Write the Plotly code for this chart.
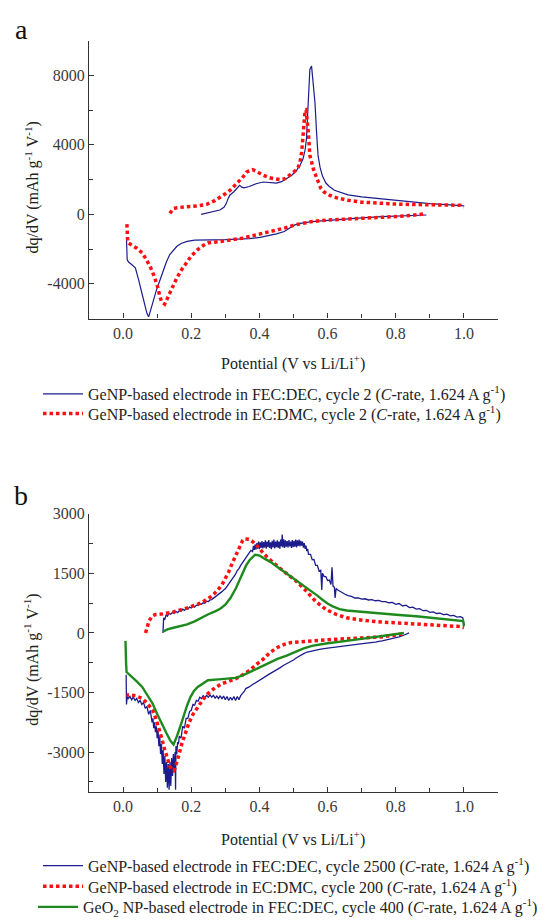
import plotly.graph_objects as go

# ---------------- Panel a data ----------------
a_fec_up_x = [0.229, 0.26, 0.284, 0.296, 0.303, 0.308, 0.313, 0.325, 0.342, 0.348, 0.355, 0.37, 0.39, 0.411, 0.43, 0.45, 0.465, 0.48, 0.495, 0.509, 0.52, 0.528, 0.534, 0.538, 0.543, 0.548, 0.553, 0.557, 0.563, 0.568, 0.572, 0.578, 0.585, 0.595, 0.605, 0.62, 0.64, 0.66, 0.7, 0.75, 0.8, 0.85, 0.9, 0.95, 1.0]
a_fec_up_y = [0, 120, 245, 400, 630, 900, 1100, 1300, 1670, 1560, 1520, 1600, 1760, 1860, 1840, 1800, 1880, 2060, 2250, 2530, 2850, 3200, 3700, 4340, 6200, 8340, 8530, 7800, 6430, 4600, 3390, 2700, 2200, 1800, 1600, 1380, 1230, 1120, 1000, 900, 800, 700, 620, 560, 480]
a_fec_dn_x = [0.89, 0.85, 0.8, 0.758, 0.7, 0.656, 0.6, 0.554, 0.52, 0.504, 0.49, 0.473, 0.45, 0.42, 0.402, 0.37, 0.33, 0.3, 0.26, 0.229, 0.21, 0.188, 0.17, 0.158, 0.148, 0.137, 0.127, 0.117, 0.107, 0.097, 0.087, 0.08, 0.075, 0.07, 0.063, 0.056, 0.046, 0.036, 0.026, 0.016, 0.012, 0.011, 0.01]
a_fec_dn_y = [-40, -60, -100, -130, -200, -270, -340, -420, -520, -610, -780, -990, -1130, -1250, -1330, -1400, -1450, -1460, -1470, -1460, -1490, -1560, -1680, -1840, -2050, -2320, -2750, -3270, -3800, -4410, -5100, -5600, -5900, -5700, -5200, -4600, -3800, -3080, -2900, -2750, -2600, -1900, -1370]

a_ec_up_x = [0.137, 0.142, 0.148, 0.157, 0.175, 0.196, 0.22, 0.245, 0.27, 0.294, 0.315, 0.333, 0.35, 0.362, 0.372, 0.38, 0.39, 0.4, 0.411, 0.43, 0.446, 0.46, 0.475, 0.489, 0.5, 0.508, 0.514, 0.519, 0.524, 0.527, 0.53, 0.534, 0.537, 0.54, 0.544, 0.548, 0.553, 0.558, 0.565, 0.572, 0.58, 0.59, 0.605, 0.62, 0.64, 0.656, 0.7, 0.758, 0.8, 0.86, 0.9, 0.961, 0.99, 1.0]
a_ec_up_y = [57, 200, 330, 380, 410, 435, 490, 570, 800, 1100, 1400, 1770, 2100, 2430, 2520, 2570, 2480, 2360, 2250, 2100, 2020, 2000, 2050, 2250, 2400, 2550, 2720, 3000, 3580, 4200, 4910, 5960, 6000, 5490, 4600, 3390, 2900, 2630, 2250, 1860, 1500, 1280, 1100, 980, 880, 820, 700, 630, 590, 560, 540, 520, 520, 420]
a_ec_dn_x = [0.88, 0.85, 0.8, 0.758, 0.7, 0.656, 0.6, 0.554, 0.504, 0.48, 0.453, 0.42, 0.4, 0.351, 0.3, 0.249, 0.235, 0.219, 0.2, 0.188, 0.173, 0.158, 0.148, 0.137, 0.128, 0.122, 0.117, 0.112, 0.107, 0.102, 0.092, 0.081, 0.068, 0.056, 0.04, 0.0254, 0.0153, 0.013, 0.012, 0.011]
a_ec_dn_y = [20, -60, -130, -170, -200, -230, -330, -420, -610, -760, -890, -1070, -1130, -1370, -1530, -1650, -1800, -2030, -2400, -2700, -3150, -3650, -4100, -4600, -4950, -5170, -5100, -4980, -4650, -4220, -3600, -3080, -2600, -2220, -1950, -1750, -1650, -1400, -1000, -420]

# ---------------- Panel b data ----------------
# GeNP FEC:DEC cycle 2500 (noisy), charge branch in three stretches
b_fec_up1_x = [0.117, 0.119, 0.122, 0.126, 0.13, 0.135, 0.14, 0.145, 0.15, 0.155, 0.16, 0.165, 0.17, 0.175, 0.18, 0.185, 0.19, 0.195, 0.2, 0.205, 0.21, 0.215, 0.22, 0.225, 0.23, 0.235, 0.24, 0.245, 0.25, 0.255, 0.26, 0.265, 0.27, 0.275, 0.28, 0.285, 0.29, 0.295, 0.30, 0.305, 0.31, 0.315, 0.32, 0.325, 0.33, 0.335, 0.34, 0.345, 0.35, 0.355, 0.36, 0.365, 0.37, 0.375]
b_fec_up1_y = [0, 380, 330, 450, 420, 490, 470, 520, 490, 540, 510, 560, 545, 600, 570, 620, 600, 650, 630, 680, 650, 700, 690, 730, 720, 760, 750, 800, 790, 830, 840, 870, 900, 930, 960, 1010, 1040, 1080, 1110, 1170, 1230, 1300, 1360, 1430, 1480, 1570, 1620, 1700, 1760, 1830, 1880, 1960, 2000, 2080]
b_fec_up2_x = [0.38, 0.3825, 0.385, 0.3875, 0.39, 0.3925, 0.395, 0.3975, 0.40, 0.4025, 0.405, 0.4075, 0.41, 0.4125, 0.415, 0.4175, 0.42, 0.4225, 0.425, 0.4275, 0.43, 0.4325, 0.435, 0.4375, 0.44, 0.4425, 0.445, 0.4475, 0.45, 0.4525, 0.455, 0.4575, 0.46, 0.4625, 0.465, 0.467, 0.469, 0.4715, 0.474, 0.4765, 0.479, 0.4815, 0.484, 0.4865, 0.489, 0.4915, 0.494, 0.4965, 0.499, 0.5015, 0.504, 0.5065, 0.509, 0.5115, 0.514, 0.5165, 0.519, 0.5215, 0.524, 0.5265, 0.529, 0.5315, 0.534, 0.5365, 0.539, 0.5415, 0.544]
b_fec_up2_y = [2050, 2190, 2090, 2230, 2100, 2260, 2120, 2300, 2110, 2280, 2140, 2310, 2130, 2290, 2150, 2330, 2120, 2300, 2160, 2340, 2140, 2280, 2110, 2320, 2150, 2350, 2130, 2300, 2160, 2330, 2140, 2300, 2120, 2350, 2180, 2480, 2150, 2360, 2140, 2330, 2170, 2310, 2150, 2340, 2180, 2300, 2140, 2340, 2160, 2320, 2170, 2350, 2150, 2330, 2190, 2350, 2180, 2320, 2200, 2300, 2150, 2260, 2120, 2200, 2060, 2120, 1980]
b_fec_up3_x = [0.55, 0.555, 0.56, 0.565, 0.57, 0.575, 0.58, 0.583, 0.585, 0.59, 0.595, 0.60, 0.605, 0.61, 0.613, 0.616, 0.62, 0.622, 0.625, 0.63, 0.64, 0.65, 0.66, 0.67, 0.68, 0.69, 0.70, 0.71, 0.72, 0.73, 0.74, 0.75, 0.76, 0.77, 0.78, 0.79, 0.80, 0.81, 0.82, 0.83, 0.84, 0.85, 0.86, 0.87, 0.88, 0.89, 0.90, 0.91, 0.92, 0.93, 0.94, 0.95, 0.96, 0.97, 0.98, 0.99, 0.997, 1.0]
b_fec_up3_y = [1980, 1840, 1850, 1700, 1700, 1560, 1580, 1080, 1500, 1420, 1420, 1320, 1330, 1220, 1650, 1180, 1150, 880, 1120, 1080, 1020, 980, 940, 920, 880, 880, 850, 860, 830, 840, 810, 820, 790, 790, 760, 770, 720, 740, 680, 700, 640, 650, 600, 610, 560, 570, 520, 530, 490, 500, 460, 470, 430, 440, 400, 410, 380, 200]
# discharge branch (from 0.84 V down to 0.01 V)
b_fec_dn1_x = [0.839, 0.83, 0.82, 0.81, 0.80, 0.79, 0.78, 0.77, 0.76, 0.75, 0.74, 0.72, 0.70, 0.68, 0.66, 0.64, 0.62, 0.60, 0.58, 0.56, 0.54, 0.53, 0.52, 0.51, 0.50, 0.49, 0.48, 0.47, 0.46, 0.45, 0.44, 0.43, 0.42, 0.41, 0.40, 0.39, 0.38, 0.37, 0.36, 0.355, 0.35, 0.345, 0.34, 0.335, 0.33, 0.325, 0.32, 0.315, 0.31, 0.305, 0.30, 0.295, 0.29, 0.285, 0.28, 0.275, 0.27, 0.265, 0.26, 0.255, 0.25, 0.245, 0.24, 0.235, 0.23, 0.225, 0.22, 0.215, 0.21, 0.205, 0.20, 0.195, 0.19, 0.185, 0.18, 0.175, 0.17]
b_fec_dn1_y = [0, -40, -70, -100, -120, -140, -170, -180, -200, -210, -230, -250, -270, -290, -320, -340, -360, -380, -410, -440, -480, -520, -560, -620, -680, -720, -780, -820, -880, -920, -980, -1030, -1080, -1140, -1180, -1230, -1300, -1360, -1400, -1480, -1540, -1580, -1680, -1600, -1700, -1600, -1690, -1620, -1700, -1600, -1680, -1590, -1660, -1580, -1650, -1590, -1640, -1570, -1620, -1560, -1620, -1570, -1630, -1580, -1650, -1620, -1720, -1700, -1820, -1800, -1950, -1980, -2150, -2150, -2400, -2350, -2650]
b_fec_dn2_x = [0.165, 0.1625, 0.16, 0.1575, 0.155, 0.154, 0.1525, 0.15, 0.1475, 0.145, 0.1425, 0.14, 0.1375, 0.135, 0.1325, 0.13, 0.1275, 0.125, 0.1225, 0.12, 0.1175, 0.115, 0.1125, 0.11, 0.1075, 0.105, 0.1025, 0.10, 0.0975, 0.095, 0.0925, 0.09, 0.0875, 0.085]
b_fec_dn2_y = [-2600, -2800, -2750, -3050, -2850, -3950, -3000, -3450, -3050, -3600, -3150, -3850, -3250, -3950, -3300, -3900, -3250, -3750, -3100, -3550, -2950, -3300, -2800, -3050, -2600, -2850, -2450, -2650, -2350, -2500, -2250, -2400, -2150, -2250]
b_fec_dn3_x = [0.08, 0.075, 0.07, 0.065, 0.06, 0.055, 0.05, 0.045, 0.04, 0.035, 0.03, 0.025, 0.02, 0.015, 0.012, 0.01, 0.009]
b_fec_dn3_y = [-1950, -2050, -1850, -1900, -1750, -1800, -1700, -1750, -1650, -1700, -1620, -1680, -1600, -1650, -1600, -1800, -1050]

b_ec_up_x = [0.066, 0.07, 0.076, 0.085, 0.095, 0.117, 0.148, 0.188, 0.229, 0.259, 0.275, 0.29, 0.3, 0.31, 0.32, 0.331, 0.34, 0.346, 0.351, 0.356, 0.364, 0.371, 0.38, 0.392, 0.412, 0.443, 0.473, 0.504, 0.534, 0.565, 0.595, 0.626, 0.656, 0.707, 0.758, 0.81, 0.86, 0.91, 0.961, 0.99, 1.0]
b_ec_up_y = [0, 150, 300, 420, 465, 480, 530, 630, 755, 920, 1050, 1210, 1370, 1540, 1750, 1955, 2120, 2245, 2330, 2370, 2370, 2355, 2300, 2205, 2000, 1750, 1540, 1335, 1085, 795, 590, 465, 380, 315, 275, 250, 230, 205, 175, 160, 130]
b_ec_dn_x = [0.819, 0.79, 0.758, 0.7, 0.656, 0.6, 0.554, 0.52, 0.493, 0.475, 0.453, 0.43, 0.412, 0.39, 0.371, 0.35, 0.331, 0.31, 0.29, 0.27, 0.249, 0.235, 0.219, 0.205, 0.193, 0.183, 0.173, 0.165, 0.158, 0.152, 0.148, 0.143, 0.137, 0.13, 0.122, 0.115, 0.107, 0.097, 0.0865, 0.07, 0.056, 0.04, 0.0254, 0.0102]
b_ec_dn_y = [-30, -70, -100, -125, -140, -170, -200, -220, -240, -280, -365, -500, -655, -800, -945, -1060, -1150, -1220, -1275, -1380, -1525, -1670, -1855, -2050, -2270, -2500, -2770, -3030, -3265, -3420, -3470, -3440, -3350, -3170, -2935, -2700, -2435, -2180, -1940, -1760, -1650, -1590, -1565, -1565]

b_geo_up_x = [0.117, 0.13, 0.148, 0.165, 0.188, 0.21, 0.229, 0.25, 0.27, 0.285, 0.3, 0.315, 0.331, 0.341, 0.351, 0.361, 0.371, 0.38, 0.387, 0.395, 0.402, 0.415, 0.432, 0.45, 0.473, 0.494, 0.514, 0.534, 0.554, 0.57, 0.585, 0.6, 0.615, 0.635, 0.656, 0.68, 0.707, 0.758, 0.81, 0.86, 0.91, 0.961, 0.99, 0.998, 1.0]
b_geo_up_y = [35, 90, 130, 170, 215, 290, 380, 470, 545, 610, 710, 880, 1125, 1330, 1540, 1700, 1830, 1920, 1970, 1960, 1940, 1870, 1790, 1680, 1540, 1410, 1290, 1170, 1045, 940, 835, 740, 670, 600, 565, 545, 530, 480, 450, 420, 380, 340, 310, 300, 175]
b_geo_dn_x = [0.824, 0.8, 0.758, 0.7, 0.656, 0.6, 0.554, 0.53, 0.504, 0.48, 0.453, 0.43, 0.402, 0.375, 0.351, 0.33, 0.31, 0.28, 0.249, 0.235, 0.219, 0.208, 0.198, 0.188, 0.178, 0.168, 0.158, 0.153, 0.148, 0.143, 0.137, 0.127, 0.117, 0.1, 0.0865, 0.07, 0.056, 0.04, 0.0254, 0.015, 0.0102, 0.009, 0.008, 0.007]
b_geo_dn_y = [0, -30, -75, -140, -200, -260, -325, -390, -490, -570, -655, -750, -860, -960, -1070, -1130, -1150, -1170, -1190, -1260, -1360, -1460, -1610, -1820, -2105, -2350, -2600, -2720, -2810, -2760, -2685, -2520, -2355, -2040, -1775, -1560, -1360, -1220, -1110, -1040, -985, -800, -655, -200]

# ---------------- Tick labels / texts ----------------
x_tickvals = [0.0, 0.2, 0.4, 0.6, 0.8, 1.0]
x_ticktext = ["0.0", "0.2", "0.4", "0.6", "0.8", "1.0"]
x_minor = [-0.1, 0.1, 0.3, 0.5, 0.7, 0.9, 1.1]
ya_tickvals = [-4000, 0, 4000, 8000]
ya_ticktext = ["-4000", "0", "4000", "8000"]
ya_minor = [-2000, 2000, 6000, 10000]
yb_tickvals = [-3000, -1500, 0, 1500, 3000]
yb_ticktext = ["-3000", "-1500", "0", "1500", "3000"]
yb_minor = [-3750, -2250, -750, 750, 2250]

name_a1 = "GeNP-based electrode in FEC:DEC, cycle 2 (<i>C</i>-rate, 1.624 A g<sup>-1</sup>)"
name_a2 = "GeNP-based electrode in EC:DMC, cycle 2 (<i>C</i>-rate, 1.624 A g<sup>-1</sup>)"
name_b1 = "GeNP-based electrode in FEC:DEC, cycle 2500 (<i>C</i>-rate, 1.624 A g<sup>-1</sup>)"
name_b2 = "GeNP-based electrode in EC:DMC, cycle 200 (<i>C</i>-rate, 1.624 A g<sup>-1</sup>)"
name_b3 = "GeO<sub>2</sub> NP-based electrode in FEC:DEC, cycle 400 (<i>C</i>-rate, 1.624 A g<sup>-1</sup>)"

BLUE = "#1c1c8c"
RED = "#ff1010"
GREEN = "#1e8a1e"
FONT = "Liberation Serif"
W, H = 543, 924


def cat(*parts):
    xs, ys = [], []
    for i, (px, py) in enumerate(parts):
        assert len(px) == len(py)
        if i:
            xs.append(None)
            ys.append(None)
        xs += px
        ys += py
    return xs, ys


def chain(*parts):
    xs, ys = [], []
    for px, py in parts:
        assert len(px) == len(py)
        xs += px
        ys += py
    return xs, ys


fig = go.Figure()

x, y = cat((a_fec_dn_x, a_fec_dn_y), (a_fec_up_x, a_fec_up_y))
fig.add_trace(go.Scatter(x=x, y=y, mode="lines", name=name_a1, xaxis="x", yaxis="y",
                         line=dict(color=BLUE, width=1.2), legend="legend"))
x, y = cat((a_ec_dn_x, a_ec_dn_y), (a_ec_up_x, a_ec_up_y))
fig.add_trace(go.Scatter(x=x, y=y, mode="lines", name=name_a2, xaxis="x", yaxis="y",
                         line=dict(color=RED, width=3.5, dash="3.5px,3px"), legend="legend2"))

dn = chain((b_fec_dn1_x, b_fec_dn1_y), (b_fec_dn2_x, b_fec_dn2_y), (b_fec_dn3_x, b_fec_dn3_y))
up = chain((b_fec_up1_x, b_fec_up1_y), (b_fec_up2_x, b_fec_up2_y), (b_fec_up3_x, b_fec_up3_y))
x, y = cat(dn, up)
fig.add_trace(go.Scatter(x=x, y=y, mode="lines", name=name_b1, xaxis="x2", yaxis="y2",
                         line=dict(color=BLUE, width=1.3), legend="legend3"))
x, y = cat((b_ec_dn_x, b_ec_dn_y), (b_ec_up_x, b_ec_up_y))
fig.add_trace(go.Scatter(x=x, y=y, mode="lines", name=name_b2, xaxis="x2", yaxis="y2",
                         line=dict(color=RED, width=3.5, dash="3.5px,3px"), legend="legend4"))
x, y = cat((b_geo_dn_x, b_geo_dn_y), (b_geo_up_x, b_geo_up_y))
fig.add_trace(go.Scatter(x=x, y=y, mode="lines", name=name_b3, xaxis="x2", yaxis="y2",
                         line=dict(color=GREEN, width=2.4), legend="legend5"))

xdom = [89 / W, 498 / W]
ya_dom = [1 - 315 / H, 1 - 33 / H]
yb_dom = [1 - 795 / H, 1 - 513 / H]

axis_common = dict(showline=True, linecolor="#333333", linewidth=1.3, showgrid=False, zeroline=False,
                   ticks="inside", ticklen=5, tickcolor="#333333", tickwidth=1.2,
                   tickfont=dict(family=FONT, size=16, color="#3a3a3a"), mirror=False)


def xaxis(anchor):
    return dict(axis_common, domain=xdom, range=[-0.1, 1.1], anchor=anchor,
                tickmode="array", tickvals=x_tickvals, ticktext=x_ticktext,
                minor=dict(tickmode="array", tickvals=x_minor, ticks="inside", ticklen=4,
                           tickcolor="#333333", tickwidth=1.2))


def yaxis(anchor, dom, rng, tv, tt, mv):
    return dict(axis_common, domain=dom, range=rng, anchor=anchor,
                tickmode="array", tickvals=tv, ticktext=tt,
                minor=dict(tickmode="array", tickvals=mv, ticks="inside", ticklen=4,
                           tickcolor="#333333", tickwidth=1.2))


def legend_at(ypx):
    return dict(x=38 / W, y=1 - ypx / H, xanchor="left", yanchor="middle", bgcolor="rgba(0,0,0,0)",
                font=dict(family=FONT, size=16, color="#222222"),
                tracegroupgap=0, itemwidth=40, borderwidth=0)


ytitle = "dq/dV (mAh g<sup>-1</sup> V<sup>-1</sup>)"
xtitle = "Potential (V vs Li/Li<sup>+</sup>)"
ann_font = dict(family=FONT, size=16, color="#222222")

annotations = [
    dict(text="a", x=13 / W, y=1 - 22 / H, xref="paper", yref="paper", xanchor="left", yanchor="middle",
         showarrow=False, font=dict(family=FONT, size=28, color="#111111")),
    dict(text="b", x=12 / W, y=1 - 494 / H, xref="paper", yref="paper", xanchor="left", yanchor="middle",
         showarrow=False, font=dict(family=FONT, size=28, color="#111111")),
    dict(text=ytitle, x=32 / W, y=1 - 182 / H, xref="paper", yref="paper", textangle=-90,
         xanchor="center", yanchor="middle", showarrow=False, font=ann_font),
    dict(text=ytitle, x=32 / W, y=1 - 661 / H, xref="paper", yref="paper", textangle=-90,
         xanchor="center", yanchor="middle", showarrow=False, font=ann_font),
    dict(text=xtitle, x=293 / W, y=1 - 360 / H, xref="paper", yref="paper",
         xanchor="center", yanchor="middle", showarrow=False, font=ann_font),
    dict(text=xtitle, x=293 / W, y=1 - 842 / H, xref="paper", yref="paper",
         xanchor="center", yanchor="middle", showarrow=False, font=ann_font),
]

fig.update_layout(
    width=W, height=H, margin=dict(l=0, r=0, t=0, b=0),
    paper_bgcolor="white", plot_bgcolor="white",
    font=dict(family=FONT),
    xaxis=xaxis("y"),
    yaxis=yaxis("x", ya_dom, [-6000, 10000], ya_tickvals, ya_ticktext, ya_minor),
    xaxis2=xaxis("y2"),
    yaxis2=yaxis("x2", yb_dom, [-4000, 3000], yb_tickvals, yb_ticktext, yb_minor),
    legend=legend_at(391.5),
    legend2=legend_at(411.5),
    legend3=legend_at(870),
    legend4=legend_at(891),
    legend5=legend_at(912),
    annotations=annotations,
    showlegend=True,
)

fig.write_html("out.html")
